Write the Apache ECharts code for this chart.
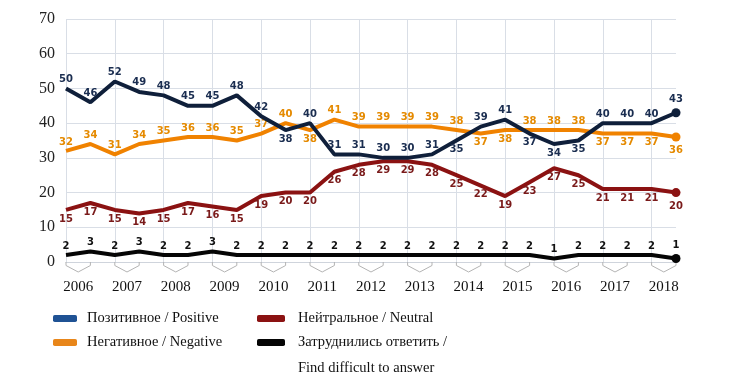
<!DOCTYPE html>
<html>
<head>
<meta charset="utf-8">
<script src="https://cdn.jsdelivr.net/npm/echarts@6/dist/echarts.min.js"></script>
<style>html,body{margin:0;padding:0;background:#fff;}#c{width:734px;height:381px;}</style>
</head>
<body>
<div id="c"></div>
<script>
const years = ['2006','2007','2008','2009','2010','2011','2012','2013','2014','2015','2016','2017','2018'];
const points = ['2006a','2006b','2007a','2007b','2008a','2008b','2009a','2009b','2010a','2010b','2011a','2011b','2012a','2012b','2013a','2013b','2014a','2014b','2015a','2015b','2016a','2016b','2017a','2017b','2018a','2018b'];
const positive = [50,46,52,49,48,45,45,48,42,38,40,31,31,30,30,31,35,39,41,37,34,35,40,40,40,43];
const negative = [32,34,31,34,35,36,36,35,37,40,38,41,39,39,39,39,38,37,38,38,38,38,37,37,37,36];
const neutral  = [15,17,15,14,15,17,16,15,19,20,20,26,28,29,29,28,25,22,19,23,27,25,21,21,21,20];
const difficult= [2,3,2,3,2,2,3,2,2,2,2,2,2,2,2,2,2,2,2,2,1,2,2,2,2,1];
const yTicks = [0,10,20,30,40,50,60,70];

const namePos = 'Позитивное / Positive';
const nameNeg = 'Негативное / Negative';
const nameNeu = 'Нейтральное / Neutral';
const nameDif = 'Затруднились ответить /';
const nameDif2 = 'Find difficult to answer';

// label placement (indices with label below the line)
const posBelow = [9,16,19,20,21];
const negBelow = [10,17,18,22,23,24,25];

const chart = echarts.init(document.getElementById('c'));
const lastIdx = points.length - 1;

function mkSeries(name, data, color, labelColor, defPos, altIdx, altPos, z) {
  return {
    name: name, type: 'line', xAxisIndex: 0, yAxisIndex: 0, z: z,
    data: data.map((v, i) => ({
      value: v,
      label: { position: altIdx.indexOf(i) >= 0 ? altPos : defPos }
    })),
    symbol: 'circle',
    symbolSize: (v, p) => p.dataIndex === lastIdx ? 9 : 0,
    itemStyle: { color: color },
    lineStyle: { color: color, width: 4 },
    label: {
      show: true, color: labelColor, fontSize: 10, fontWeight: 'bold',
      fontFamily: 'DejaVu Sans', distance: 4
    },
    emphasis: { disabled: true },
    animation: false
  };
}

const legendText = { fontFamily: 'Liberation Serif', fontSize: 14.5, color: '#111' };

const option = {
  animation: false,
  grid: [
    { left: 66, right: 58, top: 19, bottom: 119 },
    { left: 53.8, right: 45.8, top: 19, bottom: 119 }
  ],
  xAxis: [
    { type: 'category', gridIndex: 0, data: points, boundaryGap: false,
      axisLine: { show: true, lineStyle: { color: '#cfd4dc' } },
      axisTick: { show: false }, axisLabel: { show: false },
      splitLine: { show: true, lineStyle: { color: '#d9dee6', width: 1 } } },
    { type: 'category', gridIndex: 1, data: years, boundaryGap: true,
      axisLine: { show: false }, axisTick: { show: false },
      axisLabel: { show: true, margin: 18, color: '#111', fontSize: 15, fontFamily: 'Liberation Serif' },
      splitLine: { show: false } }
  ],
  yAxis: [
    { type: 'value', gridIndex: 0, min: 0, max: 70, interval: 10,
      axisLine: { show: false }, axisTick: { show: false },
      axisLabel: { color: '#222', fontSize: 16, fontFamily: 'Liberation Serif', margin: 11,
        formatter: v => yTicks.indexOf(v) >= 0 ? String(v) : '' },
      splitLine: { show: true, lineStyle: { color: '#d9dee6', width: 1 } } },
    { type: 'value', gridIndex: 1, min: 0, max: 70, show: false }
  ],
  legend: [
    { orient: 'vertical', left: 53, top: 311, padding: 0, itemWidth: 24, itemHeight: 7, itemGap: 9,
      textStyle: Object.assign({ padding: [0,0,0,5] }, legendText),
      selectedMode: false,
      data: [
        { name: namePos, icon: 'roundRect', itemStyle: { color: '#1f5294' } },
        { name: nameNeg, icon: 'roundRect', itemStyle: { color: '#e8861a' } }
      ] },
    { orient: 'vertical', left: 257, top: 311, padding: 0, itemWidth: 28, itemHeight: 7, itemGap: 9,
      textStyle: Object.assign({ padding: [0,0,0,8] }, legendText),
      selectedMode: false,
      data: [
        { name: nameNeu, icon: 'roundRect', itemStyle: { color: '#8b1212' } },
        { name: nameDif, icon: 'roundRect', itemStyle: { color: '#050505' } }
      ] }
  ],
  graphic: [
    { type: 'text', left: 298, top: 361,
      style: { text: nameDif2, fill: '#111', font: '14.5px "Liberation Serif"' } }
  ],
  series: [
    mkSeries(nameNeg, negative, '#f08200', '#e58a00', 'top', negBelow, 'bottom', 2),
    mkSeries(nameNeu, neutral, '#8b1212', '#7a1a1a', 'bottom', [], 'top', 3),
    mkSeries(namePos, positive, '#0f1f3a', '#1a2d50', 'top', posBelow, 'bottom', 4),
    mkSeries(nameDif, difficult, '#050505', '#111', 'top', [], 'bottom', 5),
    {
      type: 'custom', xAxisIndex: 1, yAxisIndex: 1, silent: true, z: 1,
      data: years.map(y => [y, 0]),
      encode: { x: 0, y: 1 },
      renderItem: function (params, api) {
        const c = api.coord([api.value(0), 0]);
        const band = api.size([1, 0])[0];
        const q = band / 4;
        const y = c[1];
        return {
          type: 'polyline',
          shape: { points: [[c[0]-q, y], [c[0]-q, y+3.5], [c[0], y+10], [c[0]+q, y+3.5], [c[0]+q, y]] },
          style: { stroke: '#b3b3b3', lineWidth: 1, fill: null }
        };
      },
      animation: false
    }
  ]
};
chart.setOption(option);
</script>
</body>
</html>
